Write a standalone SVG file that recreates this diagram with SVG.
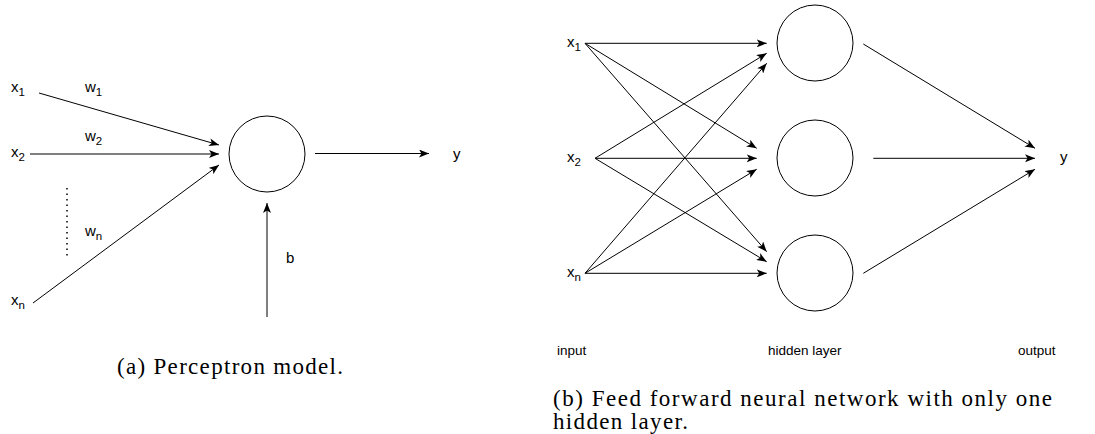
<svg xmlns="http://www.w3.org/2000/svg" width="1095" height="434" viewBox="0 0 1095 434">
<style>
.lbl{font-family:"Liberation Sans",Arial,sans-serif;font-size:15px;fill:#000}
.sub{font-size:11.5px}
.cap{font-family:"Liberation Serif","Times New Roman",serif;font-size:23px;fill:#000}
.small{font-family:"Liberation Sans",Arial,sans-serif;font-size:13.5px;fill:#000}
.node{fill:#fff;stroke:#000;stroke-width:1}
.edge{stroke:#000;stroke-width:1;fill:none;marker-end:url(#arr)}
</style>
<defs>
<marker id="arr" markerUnits="userSpaceOnUse" markerWidth="11" markerHeight="8" refX="10" refY="4" orient="auto">
<path d="M0,0 L10,4 L0,8 L2.5,4 z" fill="#000"/>
</marker>
</defs>
<rect width="1095" height="434" fill="#fff"/>

<!-- Panel (a) -->
<g id="perceptron">
<circle class="node" cx="267" cy="154" r="38"/>
</g>
<g id="a-labels">
<text class="lbl" x="11" y="92">x<tspan class="sub" dy="4">1</tspan></text>
<text class="lbl" x="11" y="157">x<tspan class="sub" dy="4">2</tspan></text>
<text class="lbl" x="11" y="305">x<tspan class="sub" dy="4">n</tspan></text>
<text class="lbl" x="85" y="92">w<tspan class="sub" dy="4">1</tspan></text>
<text class="lbl" x="85" y="141">w<tspan class="sub" dy="4">2</tspan></text>
<text class="lbl" x="85" y="236">w<tspan class="sub" dy="4">n</tspan></text>
<text class="lbl" x="286" y="263">b</text>
<text class="lbl" x="453" y="159">y</text>
</g>
<g id="a-edges">
<line class="edge" x1="39" y1="93" x2="219" y2="145"/>
<line class="edge" x1="30" y1="154" x2="219" y2="154"/>
<line class="edge" x1="33" y1="303" x2="219" y2="165"/>
<line class="edge" x1="315" y1="153.5" x2="429" y2="153.5"/>
<line class="edge" x1="267" y1="317" x2="267" y2="203"/>
<line x1="67" y1="188" x2="67" y2="258" stroke="#000" stroke-width="1.5" stroke-dasharray="1.5,4"/>
</g>

<!-- Panel (b) -->
<g id="h1"><circle class="node" cx="815" cy="43" r="38"/></g>
<g id="h2"><circle class="node" cx="815" cy="158" r="38"/></g>
<g id="h3"><circle class="node" cx="815" cy="273" r="38"/></g>
<g id="b-labels">
<text class="lbl" x="567" y="47">x<tspan class="sub" dy="4">1</tspan></text>
<text class="lbl" x="567" y="162">x<tspan class="sub" dy="4">2</tspan></text>
<text class="lbl" x="567" y="277">x<tspan class="sub" dy="4">n</tspan></text>
<text class="lbl" x="1060" y="162">y</text>
<text class="small" x="557" y="355">input</text>
<text class="small" x="768" y="355">hidden layer</text>
<text class="small" x="1018" y="355">output</text>
</g>
<g id="b-edges">
<line class="edge" x1="585" y1="43.3" x2="766.7" y2="43.3"/>
<line class="edge" x1="585" y1="43.3" x2="756.7" y2="148.3"/>
<line class="edge" x1="585" y1="43.3" x2="766.7" y2="251.7"/>
<line class="edge" x1="595" y1="158.3" x2="766.7" y2="53.3"/>
<line class="edge" x1="595" y1="158.3" x2="756.7" y2="158.3"/>
<line class="edge" x1="595" y1="158.3" x2="766.7" y2="261.7"/>
<line class="edge" x1="585" y1="273.3" x2="766.7" y2="63.3"/>
<line class="edge" x1="585" y1="273.3" x2="756.7" y2="169.3"/>
<line class="edge" x1="585" y1="273.3" x2="766.7" y2="273.3"/>
<line class="edge" x1="863.3" y1="44" x2="1035" y2="148.3"/>
<line class="edge" x1="873.3" y1="158.3" x2="1035" y2="158.3"/>
<line class="edge" x1="863.3" y1="273.3" x2="1035" y2="169.3"/>
</g>

<!-- Captions -->
<text class="cap" x="117" y="374" textLength="226">(a) Perceptron model.</text>
<text class="cap" x="553" y="406" textLength="499">(b) Feed forward neural network with only one</text>
<text class="cap" x="553" y="429" textLength="135">hidden layer.</text>
</svg>
